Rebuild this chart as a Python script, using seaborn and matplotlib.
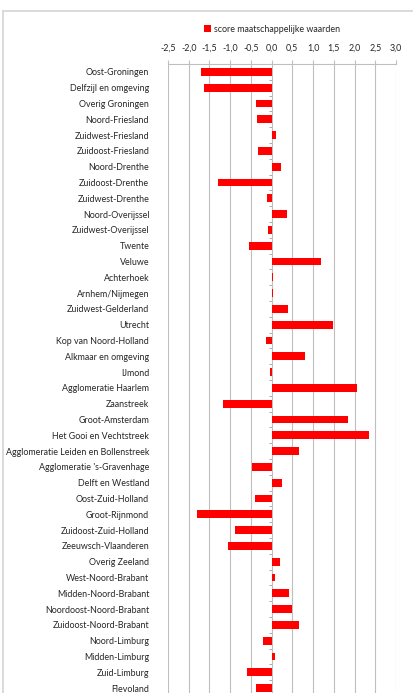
import numpy as np
import pandas as pd
import seaborn as sns
import matplotlib.pyplot as plt
from matplotlib.lines import Line2D
from matplotlib.patches import Patch
from matplotlib.ticker import FuncFormatter

regions = [
    "Oost-Groningen", "Delfzijl en omgeving", "Overig Groningen", "Noord-Friesland",
    "Zuidwest-Friesland", "Zuidoost-Friesland", "Noord-Drenthe", "Zuidoost-Drenthe",
    "Zuidwest-Drenthe", "Noord-Overijssel", "Zuidwest-Overijssel", "Twente",
    "Veluwe", "Achterhoek", "Arnhem/Nijmegen", "Zuidwest-Gelderland", "Utrecht",
    "Kop van Noord-Holland", "Alkmaar en omgeving", "IJmond", "Agglomeratie Haarlem",
    "Zaanstreek", "Groot-Amsterdam", "Het Gooi en Vechtstreek",
    "Agglomeratie Leiden en Bollenstreek", "Agglomeratie 's-Gravenhage",
    "Delft en Westland", "Oost-Zuid-Holland", "Groot-Rijnmond",
    "Zuidoost-Zuid-Holland", "Zeeuwsch-Vlaanderen", "Overig Zeeland",
    "West-Noord-Brabant", "Midden-Noord-Brabant", "Noordoost-Noord-Brabant",
    "Zuidoost-Noord-Brabant", "Noord-Limburg", "Midden-Limburg", "Zuid-Limburg",
    "Flevoland",
]
scores = [
    -1.71, -1.63, -0.37, -0.35, 0.11, -0.33, 0.23, -1.30, -0.12, 0.36,
    -0.08, -0.55, 1.18, 0.03, 0.03, 0.40, 1.48, -0.14, 0.81, -0.04,
    2.05, -1.18, 1.84, 2.34, 0.67, -0.47, 0.26, -0.39, -1.80, -0.88,
    -1.05, 0.19, 0.08, 0.42, 0.50, 0.65, -0.20, 0.08, -0.60, -0.38,
]
x_ticks = np.arange(-2.5, 3.01, 0.5)
series_label = "score maatschappelijke waarden"

df = pd.DataFrame({"regio": regions, "score": scores})

sns.set_style("white")
plt.rcParams["font.family"] = ["Lato", "DejaVu Sans"]

grid_col = "#bfbfbf"
text_col = "#262626"
fsize = 6.4

fig = plt.figure(figsize=(4.13, 6.93), dpi=100)
ax = fig.add_axes([168 / 413, -3 / 693, 228 / 413, 632 / 693])

sns.barplot(data=df, x="score", y="regio", orient="h", color="#ff0000",
            saturation=1, width=0.5, linewidth=0, edgecolor="none",
            ax=ax, zorder=3)

ax.set_xlim(-2.5, 3.0)
ax.set_ylim(len(regions) - 0.5, -0.5)
ax.set_xticks(x_ticks)
ax.xaxis.set_major_formatter(FuncFormatter(lambda v, p: f"{v:.1f}".replace(".", ",")))
ax.xaxis.tick_top()
ax.tick_params(axis="x", top=True, bottom=False, length=3, width=0.8,
               color=grid_col, pad=5, labelsize=fsize, labelcolor=text_col)
ax.tick_params(axis="y", left=False, pad=10, labelsize=fsize, labelcolor=text_col)
ax.grid(axis="x", color=grid_col, linewidth=0.8, zorder=0)
ax.set_axisbelow(True)
ax.set_xlabel("")
ax.set_ylabel("")
for side in ["left", "right", "bottom"]:
    ax.spines[side].set_visible(False)
ax.spines["top"].set_color(grid_col)
ax.spines["top"].set_linewidth(0.8)

# small category tick marks along the zero line
sec = ax.secondary_yaxis(2.5 / 5.5)
sec.set_yticks(np.arange(-0.5, len(regions), 1))
sec.set_yticklabels([])
sec.tick_params(axis="y", length=2.5, width=0.6, color="#9a9a9a")
for sp in sec.spines.values():
    sp.set_visible(False)

# legend above the axis
handle = Patch(facecolor="#ff0000", edgecolor="none")
fig.legend([handle], [series_label], loc="center left",
           bbox_to_anchor=(196 / 413, 1 - 29 / 693), frameon=False,
           fontsize=fsize, handlelength=0.8, handleheight=0.8, handletextpad=0.3,
           labelcolor=text_col)

# outer chart border (cut off by the picture on right and bottom)
fig.add_artist(Line2D([3 / 413, 3 / 413], [-0.1, 1 - 11 / 693],
                      transform=fig.transFigure, color="#d4d4d4", linewidth=1.2))
fig.add_artist(Line2D([3 / 413, 1.1], [1 - 11 / 693, 1 - 11 / 693],
                      transform=fig.transFigure, color="#d4d4d4", linewidth=1.2))

fig.savefig("out.png", dpi=100)
